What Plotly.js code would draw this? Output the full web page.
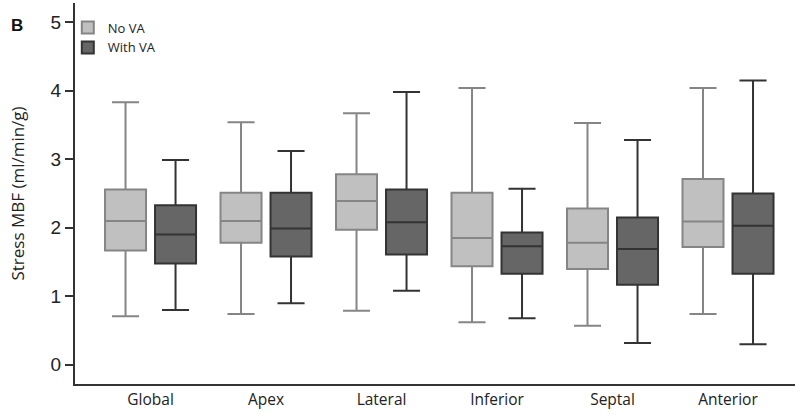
<!DOCTYPE html>
<html>
<head>
<meta charset="utf-8">
<script src="https://cdn.plot.ly/plotly-3.0.1.min.js"></script>
<style>html,body{margin:0;padding:0;background:#fff;} #chart{width:800px;height:415px;}</style>
</head>
<body>
<div id="chart"></div>
<script>
const categories = ["Global", "Apex", "Lateral", "Inferior", "Septal", "Anterior"];

const noVA_lower  = [0.71, 0.74, 0.79, 0.62, 0.57, 0.74];
const noVA_q1     = [1.67, 1.78, 1.97, 1.44, 1.40, 1.72];
const noVA_median = [2.10, 2.10, 2.39, 1.85, 1.78, 2.09];
const noVA_q3     = [2.56, 2.51, 2.78, 2.51, 2.28, 2.71];
const noVA_upper  = [3.83, 3.54, 3.67, 4.04, 3.53, 4.04];

const withVA_lower  = [0.80, 0.90, 1.08, 0.68, 0.32, 0.30];
const withVA_q1     = [1.48, 1.58, 1.61, 1.33, 1.17, 1.33];
const withVA_median = [1.90, 1.99, 2.08, 1.73, 1.69, 2.03];
const withVA_q3     = [2.33, 2.51, 2.56, 1.93, 2.15, 2.50];
const withVA_upper  = [2.99, 3.12, 3.98, 2.57, 3.28, 4.15];

const yTicks = [0, 1, 2, 3, 4, 5];

const traces = [
  {
    type: "box", name: "No VA", x: categories,
    q1: noVA_q1, median: noVA_median, q3: noVA_q3,
    lowerfence: noVA_lower, upperfence: noVA_upper,
    boxpoints: false, whiskerwidth: 0.66,
    fillcolor: "#c0c0c0", line: {color: "#858585", width: 2},
    hoverinfo: "skip"
  },
  {
    type: "box", name: "With VA", x: categories,
    q1: withVA_q1, median: withVA_median, q3: withVA_q3,
    lowerfence: withVA_lower, upperfence: withVA_upper,
    boxpoints: false, whiskerwidth: 0.66,
    fillcolor: "#666666", line: {color: "#333333", width: 2},
    hoverinfo: "skip"
  }
];

const layout = {
  width: 800, height: 415,
  margin: {l: 75, r: 5, t: 3, b: 31},
  paper_bgcolor: "#fff", plot_bgcolor: "#fff",
  boxmode: "group", boxgap: 0.134, boxgroupgap: 0.18,
  showlegend: true,
  legend: {
    x: -0.01, y: 0.975, xanchor: "left", yanchor: "top",
    bgcolor: "rgba(0,0,0,0)", font: {family: "Open Sans, sans-serif", size: 13, color: "#222"},
    itemwidth: 30, tracegroupgap: 0
  },
  xaxis: {
    type: "category", range: [-0.654, 5.58],
    showline: true, linecolor: "#333", linewidth: 2,
    ticks: "", showgrid: false, zeroline: false,
    tickfont: {family: "Open Sans, sans-serif", size: 15.5, color: "#222"},
    fixedrange: true
  },
  yaxis: {
    range: [-0.28, 5.28], tickvals: yTicks, ticktext: yTicks.map(String),
    showline: true, linecolor: "#333", linewidth: 2,
    ticks: "outside", ticklen: 8, tickwidth: 2, tickcolor: "#333",
    showgrid: false, zeroline: false,
    tickfont: {family: "Liberation Sans, Arial, sans-serif", size: 19, color: "#222"},
    title: {text: "Stress MBF (ml/min/g)", font: {family: "Open Sans, sans-serif", size: 17, color: "#222"}, standoff: 22},
    fixedrange: true
  },
  annotations: [
    {text: "<b>B</b>", xref: "paper", yref: "paper", x: -0.092, y: 0.972,
     xanchor: "left", yanchor: "top", showarrow: false,
     font: {family: "Liberation Sans, Arial, sans-serif", size: 17, color: "#111"}}
  ]
};

Plotly.newPlot("chart", traces, layout, {staticPlot: true, displayModeBar: false});
</script>
</body>
</html>
